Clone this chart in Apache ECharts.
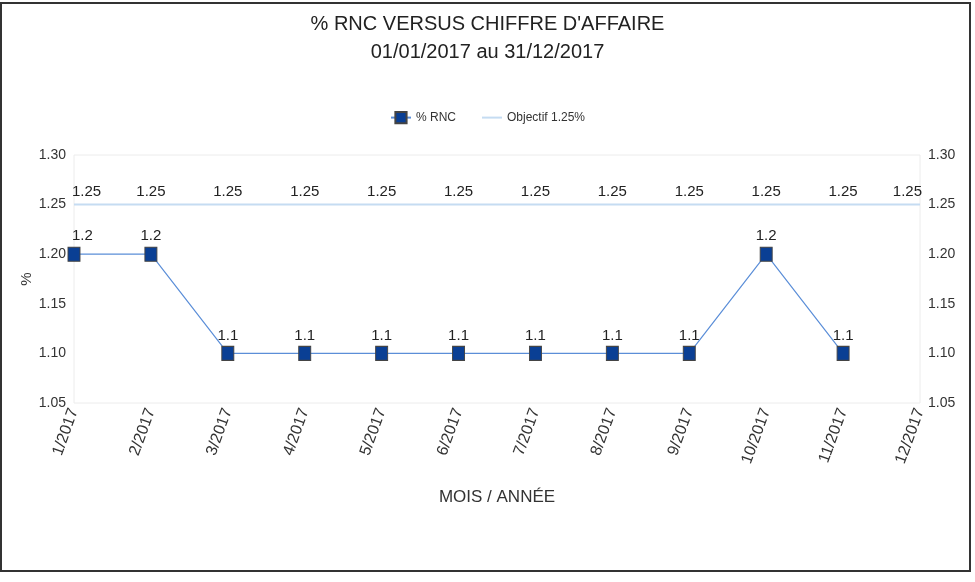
<!DOCTYPE html>
<html>
<head>
<meta charset="utf-8">
<script src="https://cdn.jsdelivr.net/npm/echarts@6/dist/echarts.min.js"></script>
<style>
  html, body { margin: 0; padding: 0; background: #fff; }
  #chart { width: 975px; height: 582px; }
</style>
</head>
<body>
<div id="chart"></div>
<script>
// données
var mois = ['1/2017', '2/2017', '3/2017', '4/2017', '5/2017', '6/2017',
            '7/2017', '8/2017', '9/2017', '10/2017', '11/2017', '12/2017'];
var rnc = [1.2, 1.2, 1.1, 1.1, 1.1, 1.1, 1.1, 1.1, 1.1, 1.2, 1.1, null];
var objectif = [1.25, 1.25, 1.25, 1.25, 1.25, 1.25, 1.25, 1.25, 1.25, 1.25, 1.25, 1.25];
var yTicks = [1.05, 1.10, 1.15, 1.20, 1.25, 1.30];

var FONT = '"Liberation Sans Narrow", "Liberation Sans", Arial, sans-serif';

// premier / dernier point : étiquette gardée dans la zone du graphe
function withEdgeLabels(arr) {
    return arr.map(function (v, i) {
        if (i === 0) return { value: v, label: { align: 'left', offset: [-2, 0] } };
        if (i === arr.length - 1) return { value: v, label: { align: 'right', offset: [2, 0] } };
        return v;
    });
}

var yAxisBase = {
    type: 'value',
    min: yTicks[0],
    max: yTicks[yTicks.length - 1],
    interval: 0.05,
    axisLine: { show: false },
    axisTick: { show: false },
    splitLine: { show: false },
    axisLabel: {
        color: '#333', fontFamily: FONT, fontSize: 14,
        formatter: function (v) { return v.toFixed(2); }
    }
};

var chart = echarts.init(document.getElementById('chart'));
chart.setOption({
    animation: false,
    title: {
        text: '% RNC VERSUS CHIFFRE D\'AFFAIRE\n01/01/2017 au 31/12/2017',
        left: 'center',
        top: 5,
        textStyle: { fontFamily: FONT, fontSize: 20, fontWeight: 'normal', color: '#222', lineHeight: 28 }
    },
    legend: {
        top: 106,
        left: 'center',
        itemGap: 26,
        itemWidth: 20,
        itemHeight: 14,
        textStyle: { fontFamily: FONT, fontSize: 12, color: '#333' },
        data: [
            { name: '% RNC' },
            { name: 'Objectif 1.25%', icon: 'path://M0,0 L20,0 L20,2 L0,2 Z' }
        ]
    },
    grid: {
        left: 74, right: 55, top: 155, bottom: 179,
        show: true, borderColor: '#ececec', borderWidth: 1
    },
    graphic: [{
        type: 'rect',
        shape: { x: 1, y: 3, width: 969, height: 568 },
        style: { fill: 'none', stroke: '#333', lineWidth: 2 },
        silent: true
    }],
    xAxis: {
        type: 'category',
        data: mois,
        boundaryGap: false,
        name: 'MOIS / ANNÉE',
        nameLocation: 'middle',
        nameGap: 86,
        nameMoveOverlap: false,
        nameTextStyle: { fontFamily: FONT, fontSize: 17, color: '#333' },
        axisLine: { show: false },
        axisTick: { show: false },
        axisLabel: { rotate: 70, margin: 6, color: '#333', fontFamily: FONT, fontSize: 16 }
    },
    yAxis: [
        Object.assign({}, yAxisBase, {
            position: 'left',
            name: '%',
            nameLocation: 'middle',
            nameGap: 40,
            nameRotate: 90,
            nameMoveOverlap: false,
            nameTextStyle: { fontFamily: FONT, fontSize: 15, color: '#333' }
        }),
        Object.assign({}, yAxisBase, { position: 'right' })
    ],
    series: [{
        name: '% RNC',
        type: 'line',
        data: withEdgeLabels(rnc),
        symbol: 'rect',
        symbolSize: [12, 14],
        z: 3,
        lineStyle: { color: '#5b8ed8', width: 1.2 },
        itemStyle: { color: '#0a3f94', borderColor: '#444', borderWidth: 1 },
        label: {
            show: true, position: 'top', distance: 3,
            fontFamily: FONT, fontSize: 15, color: '#222'
        }
    }, {
        name: 'Objectif 1.25%',
        type: 'line',
        data: withEdgeLabels(objectif),
        symbol: 'circle',
        symbolSize: 0,
        z: 2,
        lineStyle: { color: '#c5dcf2', width: 2 },
        itemStyle: { color: '#c5dcf2' },
        label: {
            show: true, position: 'top', distance: 5,
            fontFamily: FONT, fontSize: 15, color: '#222'
        }
    }]
});
</script>
</body>
</html>
